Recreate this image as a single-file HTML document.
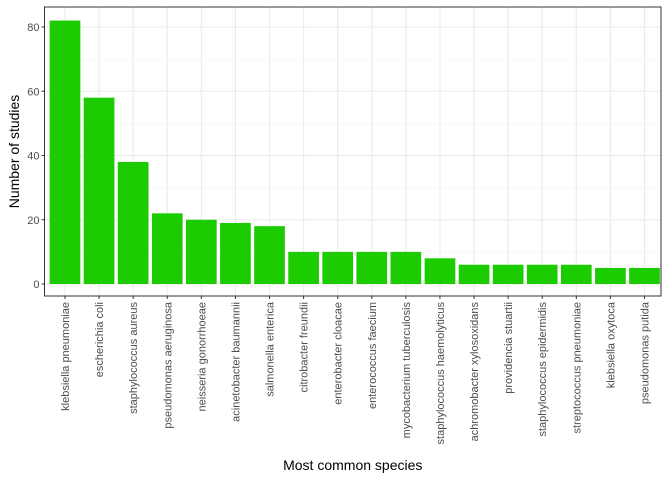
<!DOCTYPE html>
<html><head><meta charset="utf-8"><style>
body{margin:0;background:#fff;}
svg text{font-family:"Liberation Sans",Arial,sans-serif;}
</style></head><body>
<svg id="c" width="672" height="480" xmlns="http://www.w3.org/2000/svg"></svg>
<script>
const categories=["klebsiella pneumoniae","escherichia coli","staphylococcus aureus","pseudomonas aeruginosa","neisseria gonorrhoeae","acinetobacter baumannii","salmonella enterica","citrobacter freundii","enterobacter cloacae","enterococcus faecium","mycobacterium tuberculosis","staphylococcus haemolyticus","achromobacter xylosoxidans","providencia stuartii","staphylococcus epidermidis","streptococcus pneumoniae","klebsiella oxytoca","pseudomonas putida"];
const values=[82,58,38,22,20,19,18,10,10,10,10,8,6,6,6,6,5,5];
const yTicks=[0,20,40,60,80];
const NS="http://www.w3.org/2000/svg";
const svg=document.getElementById('c');
const L=44.5,R=661,T=7,B=296;
const step=(644.5-65)/17;
function x(i){return 65+i*step;}
function y(v){return 284-v*(284-27)/80;}
function mk(t,a,p){const e=document.createElementNS(NS,t);for(const k in a)e.setAttribute(k,a[k]);(p||svg).appendChild(e);return e;}
const panel=mk('rect',{x:L,y:T,width:R-L,height:B-T,fill:'#fff',stroke:'#333','stroke-width':1});


for(let k=0;k<yTicks.length-1;k++){const v=(yTicks[k]+yTicks[k+1])/2;mk('line',{x1:L,x2:R,y1:y(v),y2:y(v),stroke:'#f0f0f0','stroke-width':0.6});}
mk('line',{x1:L,x2:R,y1:y(90),y2:y(90),stroke:'#f0f0f0','stroke-width':0.6});
yTicks.forEach(v=>{const g=mk('line',{x1:L,x2:R,y1:y(v),y2:y(v),stroke:'#ebebeb','stroke-width':1.1});


mk('line',{x1:L-3,x2:L,y1:y(v),y2:y(v),stroke:'#333','stroke-width':1});
const t=mk('text',{x:L-5,y:y(v)+4,'text-anchor':'end','font-size':11,fill:'#4d4d4d'});t.textContent=v;

});
categories.forEach((c,i)=>{mk('line',{x1:x(i),x2:x(i),y1:T,y2:B,stroke:'#ebebeb','stroke-width':1.1});});
const bw=step*0.9;
categories.forEach((c,i)=>{
const b=mk('rect',{x:x(i)-bw/2,y:y(values[i]),width:bw,height:y(0)-y(values[i]),fill:'#1ccc00'});


mk('line',{x1:x(i),x2:x(i),y1:B,y2:B+3,stroke:'#333','stroke-width':1});
const t=mk('text',{x:0,y:0,'text-anchor':'end','font-size':11,fill:'#4d4d4d',transform:`translate(${x(i)+4},${B+6}) rotate(-90)`});t.textContent=c;


});
mk('rect',{x:L,y:T,width:R-L,height:B-T,fill:'none',stroke:'#333','stroke-width':1});
const yt=mk('text',{x:0,y:0,'text-anchor':'middle','font-size':14,fill:'#000',transform:`translate(19,${(T+B)/2}) rotate(-90)`});yt.textContent='Number of studies';


const xt=mk('text',{x:(L+R)/2,y:470,'text-anchor':'middle','font-size':14,fill:'#000'});xt.textContent='Most common species';


</script>
</body></html>
